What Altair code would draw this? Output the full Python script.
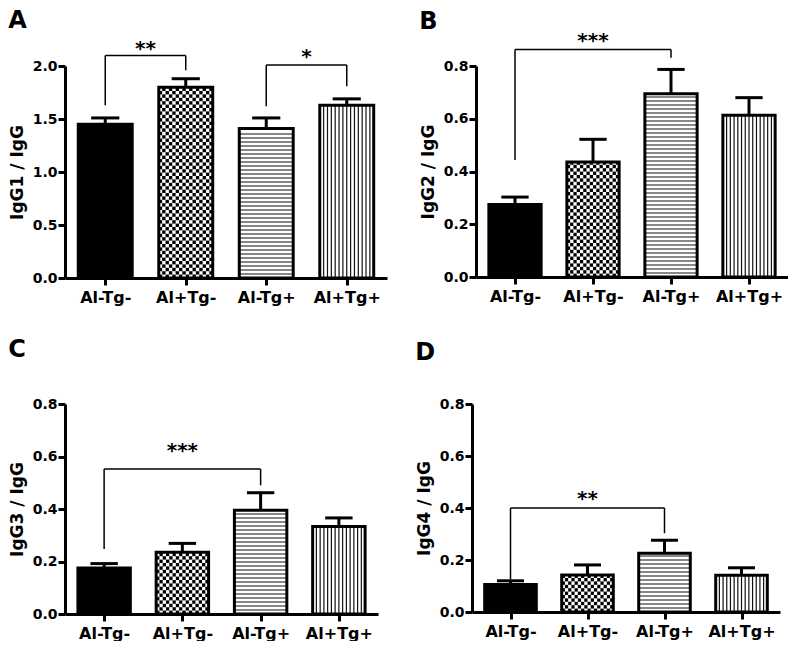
import json
import numpy as np
import pandas as pd
import altair as alt

FONT = "DejaVu Sans"

groups = ["Al-Tg-", "Al+Tg-", "Al-Tg+", "Al+Tg+"]
patterns = ["solid", "checker", "hlines", "vlines"]

igg1_mean = [1.45, 1.80, 1.41, 1.63]
igg1_err = [1.51, 1.88, 1.51, 1.69]
igg2_mean = [0.275, 0.436, 0.695, 0.613]
igg2_err = [0.303, 0.522, 0.787, 0.680]
igg3_mean = [0.175, 0.235, 0.395, 0.333]
igg3_err = [0.192, 0.269, 0.462, 0.366]
igg4_mean = [0.106, 0.142, 0.226, 0.141]
igg4_err = [0.120, 0.181, 0.276, 0.170]

# (left group, right group, bracket top, left leg bottom, right leg bottom, label, label y)
brackets_a = [(0, 1, 2.10, 1.63, 1.96, "**", 2.20), (2, 3, 2.01, 1.62, 1.81, "*", 2.12)]
brackets_b = [(0, 2, 0.863, 0.444, 0.831, "***", 0.911)]
brackets_c = [(0, 2, 0.552, 0.248, 0.490, "***", 0.635)]
brackets_d = [(0, 2, 0.400, 0.125, 0.303, "**", 0.451)]

HALF = 0.335
CAP = 0.175
label_expr = json.dumps(groups) + "[datum.value - 1]"


def panel(letter, ytitle, means, errs, brackets, ymax, ystep, width, height, offset):
    px_y = height / ymax
    pos = [i + 1 for i in range(len(groups))]

    bars = pd.DataFrame({
        "x": [p - HALF for p in pos], "x2": [p + HALF for p in pos],
        "y": [0.0] * 4, "y2": means,
        "fill": ["black" if p == "solid" else "white" for p in patterns],
    })

    cells, hl, vl = [], [], []
    for c, m, p in zip(pos, means, patterns):
        if p == "checker":
            ncol = 16
            cw = 2 * HALF / ncol
            ch = 3.4 / px_y
            nrow = int(np.ceil(m / ch))
            for r in range(nrow):
                for q in range(ncol):
                    if (r + q) % 2 == 0:
                        cells.append({"x": c - HALF + q * cw, "x2": c - HALF + (q + 1) * cw,
                                      "y": r * ch, "y2": min((r + 1) * ch, m)})
        elif p == "hlines":
            step = 4.0 / px_y
            yy = step
            while yy < m - step * 0.4:
                hl.append({"x": c - HALF, "x2": c + HALF, "y": yy, "y2": yy})
                yy += step
        elif p == "vlines":
            n = 14
            for k in range(1, n):
                xx = c - HALF + k * 2 * HALF / n
                vl.append({"x": xx, "x2": xx, "y": 0.0, "y2": m})

    err = []
    for c, m, e in zip(pos, means, errs):
        err.append({"x": c, "x2": c, "y": m, "y2": e})
        err.append({"x": c - CAP, "x2": c + CAP, "y": e, "y2": e})
    err = pd.DataFrame(err)

    segs, texts = [], []
    for (l, r, top, lb, rb, lab, ty) in brackets:
        xl, xr = pos[l], pos[r]
        segs.append({"x": xl, "x2": xr, "y": top, "y2": top})
        segs.append({"x": xl, "x2": xl, "y": lb, "y2": top})
        segs.append({"x": xr, "x2": xr, "y": rb, "y2": top})
        texts.append({"x": (xl + xr) / 2, "y": ty, "label": lab})
    segs = pd.DataFrame(segs)
    texts = pd.DataFrame(texts)

    xscale = alt.Scale(domain=[0.5, 4.5], nice=False, zero=False)
    yscale = alt.Scale(domain=[0, ymax], nice=False)
    yvals = [round(v * ystep, 3) for v in range(int(round(ymax / ystep)) + 1)]

    xaxis = alt.Axis(values=pos, labelExpr=label_expr, title=None, tickSize=7,
                     labelFontSize=16, labelPadding=4, grid=False)
    yaxis = alt.Axis(values=yvals, format=".1f", title=ytitle, tickSize=7,
                     labelFontSize=14, labelPadding=1, titlePadding=6,
                     titleFontSize=17, grid=False)

    def enc(two=True):
        d = {
            "x": alt.X("x:Q", scale=xscale, axis=xaxis),
            "y": alt.Y("y:Q", scale=yscale, axis=yaxis),
        }
        if two:
            d["x2"] = alt.X2("x2:Q")
            d["y2"] = alt.Y2("y2:Q")
        return d

    layers = [
        alt.Chart(bars).mark_rect().encode(fill=alt.Fill("fill:N", scale=None), **enc()),
    ]
    if cells:
        layers.append(alt.Chart(pd.DataFrame(cells)).mark_rect(color="black").encode(**enc()))
    if hl:
        layers.append(alt.Chart(pd.DataFrame(hl)).mark_rule(color="#111", strokeWidth=1.2).encode(**enc()))
    if vl:
        layers.append(alt.Chart(pd.DataFrame(vl)).mark_rule(color="#111", strokeWidth=1.2).encode(**enc()))
    layers.append(alt.Chart(bars).mark_rect(fillOpacity=0, stroke="black", strokeWidth=3).encode(**enc()))
    layers.append(alt.Chart(err).mark_rule(color="black", strokeWidth=3).encode(**enc()))
    layers.append(alt.Chart(segs).mark_rule(color="black", strokeWidth=1.5).encode(**enc()))
    layers.append(
        alt.Chart(texts).mark_text(font=FONT, fontSize=20, fontWeight="bold", baseline="middle",
                                   dy=4, color="black")
        .encode(text="label:N", **enc(two=False))
    )
    return alt.layer(*layers).properties(
        width=width, height=height,
        title=alt.TitleParams(letter, anchor="start", frame="bounds", fontSize=24, font=FONT,
                              fontWeight="bold", color="black", offset=offset),
    )


pa = panel("A", "IgG1 / IgG", igg1_mean, igg1_err, brackets_a, 2.0, 0.5, 322, 212, 6)
pb = panel("B", "IgG2 / IgG", igg2_mean, igg2_err, brackets_b, 0.8, 0.2, 312, 211, -3)
pc = panel("C", "IgG3 / IgG", igg3_mean, igg3_err, brackets_c, 0.8, 0.2, 313, 210, 35)
pd_ = panel("D", "IgG4 / IgG", igg4_mean, igg4_err, brackets_d, 0.8, 0.2, 308, 208, 32)

row1 = alt.hconcat(pa, pb, spacing=32)
row2 = alt.hconcat(pc, pd_, spacing=37)

chart = alt.vconcat(row1, row2, spacing=33).configure_view(stroke=None).configure_axis(
    domainColor="black", domainWidth=3, tickColor="black", tickWidth=3,
    labelColor="black", titleColor="black", labelFont=FONT, titleFont=FONT,
    labelFontWeight="bold", titleFontWeight="bold",
).properties(padding=0, background="white")

chart.save("out.html", embed_options={"renderer": "svg", "actions": False})
